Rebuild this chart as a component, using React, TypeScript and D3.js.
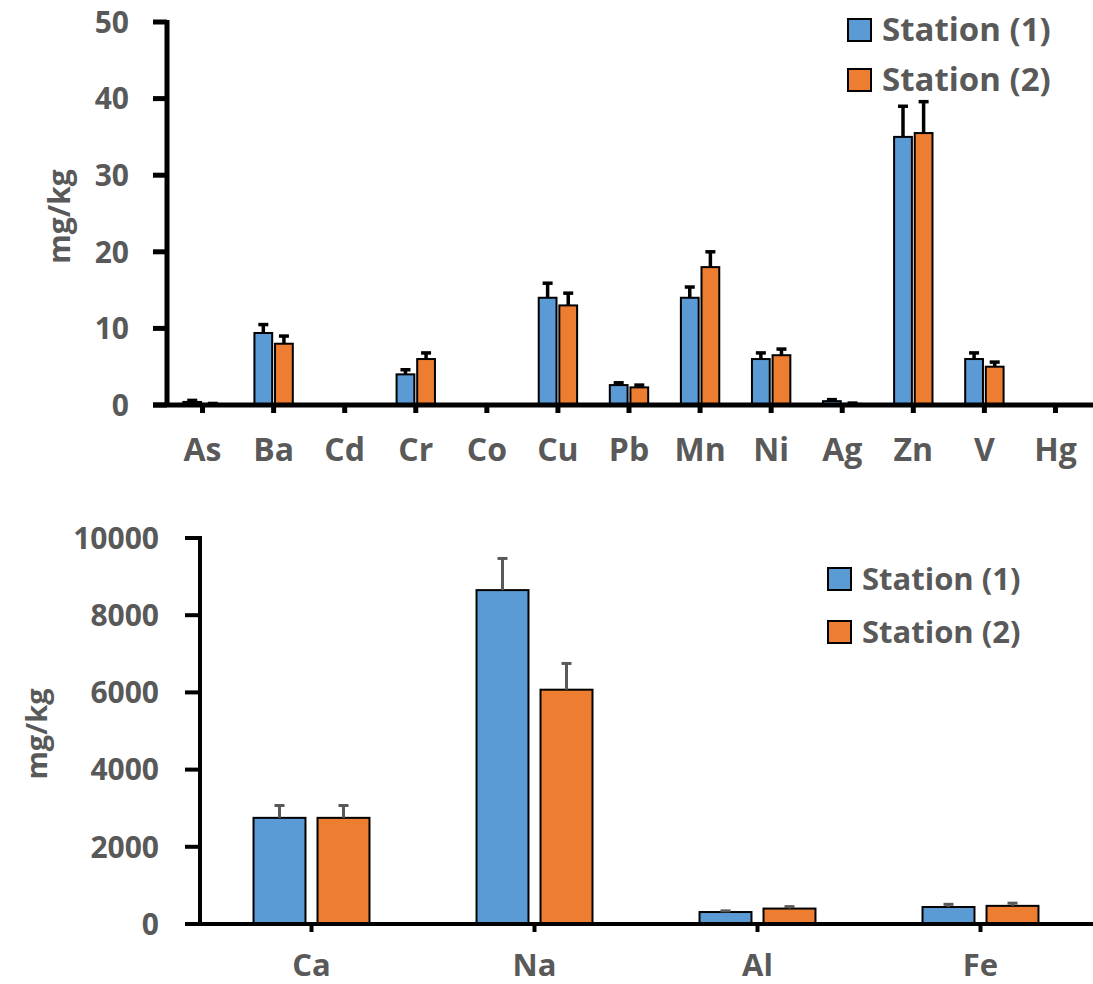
import React from 'react';
import * as d3 from 'd3';

const traceMetals = ['As', 'Ba', 'Cd', 'Cr', 'Co', 'Cu', 'Pb', 'Mn', 'Ni', 'Ag', 'Zn', 'V', 'Hg'];
const traceStation1 = [0.4, 9.4, 0, 4.0, 0, 14.0, 2.6, 14.0, 6.0, 0.5, 35.0, 6.0, 0];
const traceStation1Err = [0.2, 1.1, 0, 0.6, 0, 1.9, 0.3, 1.4, 0.8, 0.2, 4.0, 0.8, 0];
const traceStation2 = [0.1, 8.0, 0, 6.0, 0, 13.0, 2.3, 18.0, 6.5, 0.15, 35.5, 5.0, 0];
const traceStation2Err = [0.1, 1.0, 0, 0.8, 0, 1.6, 0.3, 2.0, 0.8, 0.1, 4.1, 0.6, 0];
const traceTicks = [0, 10, 20, 30, 40, 50];

const majorElements = ['Ca', 'Na', 'Al', 'Fe'];
const majorStation1 = [2750, 8650, 310, 440];
const majorStation1Err = [320, 820, 30, 70];
const majorStation2 = [2750, 6070, 400, 470];
const majorStation2Err = [320, 680, 50, 70];
const majorTicks = [0, 2000, 4000, 6000, 8000, 10000];

const seriesNames = ['Station (1)', 'Station (2)'];
const colors = ['#5B9BD5', '#ED7D31'];

const FONT = '"Open Sans", sans-serif';
const GREY = '#595959';

type PanelProps = {
  cats: string[];
  s1: number[]; e1: number[];
  s2: number[]; e2: number[];
  ticks: number[];
  left: number; right: number; top: number; bottom: number;
  axisStart: number;
  barFrac: number; gapFrac: number;
  tickFont: number; labelFont: number; labelY: number;
  tickLabelX: number;
  titleX: number; titleFont: number;
  errColor: string; errWidth: number;
  legendX: number; legendY: number; legendGap: number; legendFont: number;
  axisW: number;
};

const Panel = (p: PanelProps) => {
  const x = d3.scaleBand().domain(p.cats).range([p.left, p.right]);
  const y = d3.scaleLinear().domain([0, p.ticks[p.ticks.length - 1]]).range([p.bottom, p.top]);
  const bw = x.bandwidth();
  const barW = bw * p.barFrac;
  const gap = bw * p.gapFrac;
  const series = [
    { v: p.s1, e: p.e1 },
    { v: p.s2, e: p.e2 },
  ];

  return (
    <g>
      {/* bars + error bars */}
      {p.cats.map((c, i) => {
        const cx = (x(c) as number) + bw / 2;
        return series.map((s, k) => {
          const bx = k === 0 ? cx - gap / 2 - barW : cx + gap / 2;
          const val = s.v[i];
          const top = y(val);
          const errTop = y(val + s.e[i]);
          const mid = bx + barW / 2;
          return (
            <g key={c + k}>
              {val > 0 && (
                <rect x={bx} y={top} width={barW} height={p.bottom - top}
                  fill={colors[k]} stroke="#000" strokeWidth={2} />
              )}
              {s.e[i] > 0 && (
                <g stroke={p.errColor} strokeWidth={p.errWidth}>
                  <line x1={mid} x2={mid} y1={top} y2={errTop} />
                  <line x1={mid - 5} x2={mid + 5} y1={errTop} y2={errTop} />
                </g>
              )}
            </g>
          );
        });
      })}

      {/* y axis */}
      <line x1={p.left} x2={p.left} y1={p.top - 2} y2={p.bottom} stroke="#000" strokeWidth={p.axisW} />
      {p.ticks.map(t => (
        <g key={t}>
          <line x1={p.axisStart} x2={p.left} y1={y(t)} y2={y(t)} stroke="#000" strokeWidth={p.axisW} />
          <text x={p.tickLabelX} y={y(t)} dy="0.36em" textAnchor="end" fontFamily={FONT}
            fontWeight="bold" fontSize={p.tickFont} fill={GREY}>{t}</text>
        </g>
      ))}

      {/* x axis */}
      <line x1={p.axisStart} x2={1093} y1={p.bottom} y2={p.bottom} stroke="#000" strokeWidth={p.axisW} />
      {p.cats.map(c => {
        const cx = (x(c) as number) + bw / 2;
        return (
          <g key={c}>
            <line x1={cx} x2={cx} y1={p.bottom} y2={p.bottom + 8} stroke="#000" strokeWidth={p.axisW} />
            <text x={cx} y={p.labelY} textAnchor="middle" fontFamily={FONT} fontWeight="bold"
              fontSize={p.labelFont} fill={GREY}>{c}</text>
          </g>
        );
      })}

      {/* y title */}
      <text transform={`translate(${p.titleX},${(p.top + p.bottom) / 2 + 3}) rotate(-90)`}
        textAnchor="middle" fontFamily={FONT} fontWeight="bold" fontSize={p.titleFont} fill={GREY}>mg/kg</text>

      {/* legend */}
      {seriesNames.map((n, k) => (
        <g key={n} transform={`translate(${p.legendX},${p.legendY + k * p.legendGap})`}>
          <rect x={0} y={-22} width={23} height={22} fill={colors[k]} stroke="#000" strokeWidth={2} />
          <text x={34} y={0} fontFamily={FONT} fontWeight="bold" fontSize={p.legendFont} fill={GREY}>{n}</text>
        </g>
      ))}
    </g>
  );
};

export default function App() {
  return (
    <svg width={1093} height={984} style={{ position: 'absolute', left: 0, top: 0, background: '#fff' }}>
      <Panel cats={traceMetals} s1={traceStation1} e1={traceStation1Err} s2={traceStation2} e2={traceStation2Err}
        ticks={traceTicks} left={167} right={1091} top={22} bottom={405} axisStart={153}
        barFrac={0.25} gapFrac={0.04} tickFont={30} labelFont={32} labelY={461} tickLabelX={129}
        titleX={70} titleFont={30} errColor="#000" errWidth={3.5}
        legendX={848} legendY={41} legendGap={50} legendFont={33} axisW={5} />
      <Panel cats={majorElements} s1={majorStation1} e1={majorStation1Err} s2={majorStation2} e2={majorStation2Err}
        ticks={majorTicks} left={200} right={1092} top={538} bottom={924} axisStart={185}
        barFrac={0.233} gapFrac={0.054} tickFont={30} labelFont={31} labelY={976} tickLabelX={159}
        titleX={47} titleFont={29} errColor={GREY} errWidth={3}
        legendX={828} legendY={590} legendGap={53} legendFont={31} axisW={4} />
    </svg>
  );
}
